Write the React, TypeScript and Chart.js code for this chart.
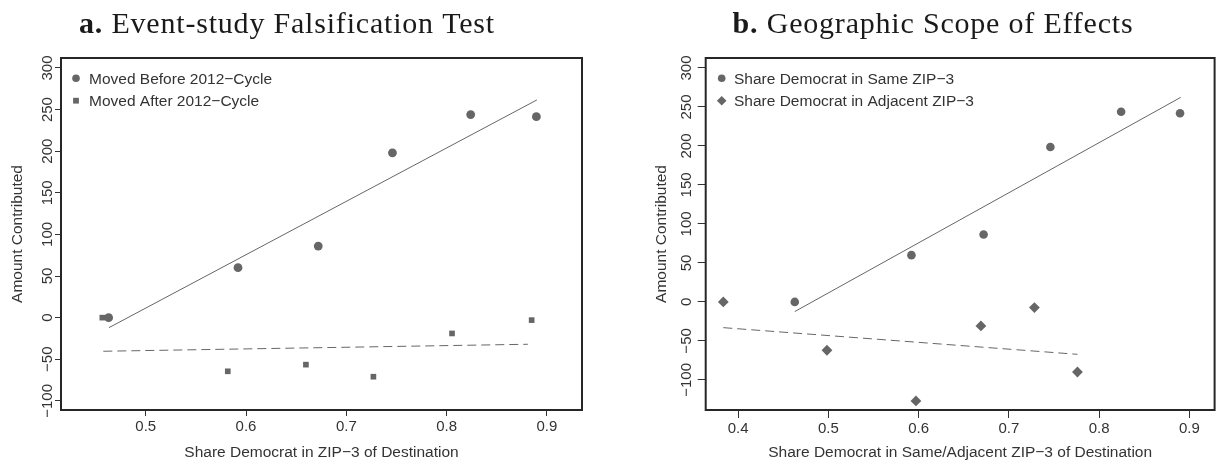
import React, { useEffect, useRef } from "react";
import { Chart, registerables } from "chart.js";

Chart.register(...registerables);

// ---------- Panel a: Event-study Falsification Test ----------
const A_BEFORE_X = [0.463, 0.592, 0.672, 0.746, 0.824, 0.8895];
const A_BEFORE_Y = [0, 60, 86, 198, 244, 241.5];
const A_AFTER_X = [0.4567, 0.5818, 0.6597, 0.727, 0.8054, 0.8848];
const A_AFTER_Y = [0, -64.5, -56.5, -71, -19, -3];
const A_FIT_BEFORE_X = [0.4634, 0.89];
const A_FIT_BEFORE_Y = [-12, 261.6];
const A_FIT_AFTER_X = [0.4577, 0.881];
const A_FIT_AFTER_Y = [-40.4, -32];
const A_X_TICKS = [0.5, 0.6, 0.7, 0.8, 0.9];

// ---------- Panel b: Geographic Scope of Effects ----------
const B_SAME_X = [0.4627, 0.592, 0.672, 0.746, 0.8244, 0.8897];
const B_SAME_Y = [0, 60, 86.4, 198.6, 243.9, 242];
const B_ADJ_X = [0.3835, 0.4984, 0.597, 0.669, 0.7283, 0.776];
const B_ADJ_Y = [0, -62, -127, -30.8, -7.3, -89.9];
const B_FIT_SAME_X = [0.4627, 0.8904];
const B_FIT_SAME_Y = [-12.4, 262.3];
const B_FIT_ADJ_X = [0.3835, 0.776];
const B_FIT_ADJ_Y = [-33, -67.2];
const B_X_TICKS = [0.4, 0.5, 0.6, 0.7, 0.8, 0.9];

const Y_TICKS = [-100, -50, 0, 50, 100, 150, 200, 250, 300];

const SANS = "'Liberation Sans', Arial, Helvetica, sans-serif";
const SERIF = "'Liberation Serif', 'Times New Roman', serif";
const INK = "#333333";
const MARK = "#666666";

const zip = (xs: number[], ys: number[]) => xs.map((x, i) => ({ x, y: ys[i] }));
const fmt = (v: number) => (v < 0 ? "\u2212" + String(Math.abs(v)) : String(v));

type Panel = {
  left: number;
  width: number;
  area: { left: number; right: number; top: number; bottom: number };
  xMin: number;
  xMax: number;
  yMin: number;
  yMax: number;
  xTicks: number[];
  tickLen: number;
  yLabelGap: number;
  yTitlePad: number;
  titleBold: string;
  titleRest: string;
  titleX: number;
  xTitle: string;
  datasets: any[];
  legend: { style: string; label: string }[];
  legendMarkerX: number;
  legendTextX: number;
};

const H = 460;
const DASH = [9, 5];

function makePanels(): Panel[] {
  const a: Panel = {
    left: 0,
    width: 610,
    area: { left: 61, right: 582, top: 58, bottom: 410 },
    xMin: 0.4155,
    xMax: 0.935,
    yMin: -111,
    yMax: 312,
    xTicks: A_X_TICKS,
    tickLen: 6,
    yLabelGap: 13.5,
    yTitlePad: 9.8,
    titleBold: "a.",
    titleRest: "Event-study Falsification Test",
    titleX: 287,
    xTitle: "Share Democrat in ZIP\u22123 of Destination",
    legend: [
      { style: "circle", label: "Moved Before 2012\u2212Cycle" },
      { style: "rect", label: "Moved After 2012\u2212Cycle" },
    ],
    legendMarkerX: 76,
    legendTextX: 89,
    datasets: [
      { data: zip(A_FIT_BEFORE_X, A_FIT_BEFORE_Y), showLine: true, borderColor: MARK, borderWidth: 1, pointRadius: 0 },
      { data: zip(A_FIT_AFTER_X, A_FIT_AFTER_Y), showLine: true, borderColor: MARK, borderWidth: 1, borderDash: DASH, pointRadius: 0 },
      { data: zip(A_BEFORE_X, A_BEFORE_Y), pointStyle: "circle", pointRadius: 4.4, backgroundColor: MARK, borderColor: MARK, borderWidth: 0 },
      { data: zip(A_AFTER_X, A_AFTER_Y), pointStyle: "rect", pointRadius: 4, backgroundColor: MARK, borderColor: MARK, borderWidth: 0 },
    ],
  };
  const b: Panel = {
    left: 610,
    width: 610,
    area: { left: 95.7, right: 608, top: 58, bottom: 410 },
    xMin: 0.364,
    xMax: 0.928,
    yMin: -138.6,
    yMax: 312.8,
    xTicks: B_X_TICKS,
    tickLen: 8,
    yLabelGap: 19,
    yTitlePad: 43.9,
    titleBold: "b.",
    titleRest: "Geographic Scope of Effects",
    titleX: 933 - 610,
    xTitle: "Share Democrat in Same/Adjacent ZIP\u22123 of Destination",
    legend: [
      { style: "circle", label: "Share Democrat in Same ZIP\u22123" },
      { style: "rectRot", label: "Share Democrat in Adjacent ZIP\u22123" },
    ],
    legendMarkerX: 721.7 - 610,
    legendTextX: 734 - 610,
    datasets: [
      { data: zip(B_FIT_SAME_X, B_FIT_SAME_Y), showLine: true, borderColor: MARK, borderWidth: 1, pointRadius: 0 },
      { data: zip(B_FIT_ADJ_X, B_FIT_ADJ_Y), showLine: true, borderColor: MARK, borderWidth: 1, borderDash: DASH, pointRadius: 0 },
      { data: zip(B_SAME_X, B_SAME_Y), pointStyle: "circle", pointRadius: 4.3, backgroundColor: MARK, borderColor: MARK, borderWidth: 0 },
      { data: zip(B_ADJ_X, B_ADJ_Y), pointStyle: "rectRot", pointRadius: 5.4, backgroundColor: MARK, borderColor: MARK, borderWidth: 0 },
    ],
  };
  return [a, b];
}

function decorPlugin(p: Panel) {
  return {
    id: "decor",
    afterDraw(chart: any) {
      const ctx = chart.ctx as CanvasRenderingContext2D;
      const ca = chart.chartArea;
      const ys = chart.scales.y;
      ctx.save();
      // frame
      ctx.strokeStyle = "#262626";
      ctx.lineWidth = 2;
      ctx.strokeRect(ca.left, ca.top, ca.right - ca.left, ca.bottom - ca.top);
      // rotated y tick labels
      ctx.fillStyle = INK;
      ctx.font = `15px ${SANS}`;
      ctx.textAlign = "center";
      ctx.textBaseline = "middle";
      for (const v of Y_TICKS) {
        const y = ys.getPixelForValue(v);
        ctx.save();
        ctx.translate(ca.left - p.yLabelGap, y);
        ctx.rotate(-Math.PI / 2);
        ctx.fillText(fmt(v), 0, 0);
        ctx.restore();
      }
      // legend
      const rows = [78.3, 100.7];
      ctx.textAlign = "left";
      ctx.font = `15.5px ${SANS}`;
      p.legend.forEach((it, i) => {
        const y = rows[i];
        ctx.fillStyle = MARK;
        ctx.beginPath();
        if (it.style === "circle") {
          ctx.arc(p.legendMarkerX, y, 3.8, 0, Math.PI * 2);
        } else if (it.style === "rect") {
          ctx.rect(p.legendMarkerX - 2.9, y - 2.9, 5.8, 5.8);
        } else {
          const r = 4.8;
          ctx.moveTo(p.legendMarkerX, y - r);
          ctx.lineTo(p.legendMarkerX + r, y);
          ctx.lineTo(p.legendMarkerX, y + r);
          ctx.lineTo(p.legendMarkerX - r, y);
          ctx.closePath();
        }
        ctx.fill();
        ctx.fillStyle = INK;
        ctx.fillText(it.label, p.legendTextX, y + 1);
      });
      // panel title
      ctx.fillStyle = "#1a1a1a";
      ctx.textBaseline = "alphabetic";
      const boldFont = `bold 30px ${SERIF}`;
      const regFont = `30px ${SERIF}`;
      (ctx as any).letterSpacing = "0.8px";
      ctx.font = boldFont;
      const wb = ctx.measureText(p.titleBold + " ").width;
      ctx.font = regFont;
      const wr = ctx.measureText(p.titleRest).width;
      const x0 = p.titleX - (wb + wr) / 2;
      ctx.font = boldFont;
      ctx.fillText(p.titleBold + " ", x0, 33);
      ctx.font = regFont;
      ctx.fillText(p.titleRest, x0 + wb, 33);
      (ctx as any).letterSpacing = "0px";
      ctx.restore();
    },
  };
}

function PanelChart({ p }: { p: Panel }) {
  const ref = useRef<HTMLCanvasElement | null>(null);
  useEffect(() => {
    if (!ref.current) return;
    const chart = new Chart(ref.current, {
      type: "scatter",
      data: { datasets: p.datasets },
      options: {
        responsive: false,
        animation: false,
        devicePixelRatio: 1,
        layout: { padding: { left: 0, top: p.area.top, right: p.width - p.area.right, bottom: 0 } },
        plugins: { legend: { display: false }, tooltip: { enabled: false }, title: { display: false } },
        scales: {
          x: {
            type: "linear",
            min: p.xMin,
            max: p.xMax,
            afterBuildTicks: (s: any) => {
              s.ticks = p.xTicks.map((v) => ({ value: v }));
            },
            afterFit: (s: any) => {
              s.height = H - p.area.bottom;
            },
            grid: { drawOnChartArea: false, drawTicks: true, tickLength: p.tickLen, color: INK, lineWidth: 1 },
            border: { display: false },
            ticks: {
              autoSkip: false,
              maxRotation: 0,
              minRotation: 0,
              padding: 2,
              color: INK,
              font: { family: SANS, size: 15 },
              callback: (v: any) => String(Math.round(Number(v) * 10) / 10),
            },
            title: {
              display: true,
              text: p.xTitle,
              color: INK,
              font: { family: SANS, size: 15.5, lineHeight: 1.0 },
              padding: { top: 0, bottom: 0 },
            },
          },
          y: {
            type: "linear",
            min: p.yMin,
            max: p.yMax,
            afterBuildTicks: (s: any) => {
              s.ticks = Y_TICKS.map((v) => ({ value: v }));
            },
            afterFit: (s: any) => {
              s.width = p.area.left;
            },
            grid: { drawOnChartArea: false, drawTicks: true, tickLength: p.tickLen, color: INK, lineWidth: 1 },
            border: { display: false },
            ticks: { display: false },
            title: {
              display: true,
              text: "Amount Contributed",
              color: INK,
              font: { family: SANS, size: 15.5, lineHeight: 1.0 },
              padding: { top: p.yTitlePad, bottom: 0 },
            },
          },
        },
      } as any,
      plugins: [decorPlugin(p)],
    });
    return () => chart.destroy();
  }, [p]);
  return (
    <canvas
      ref={ref}
      width={p.width}
      height={H}
      style={{ position: "absolute", left: p.left, top: 0, width: p.width, height: H }}
    />
  );
}

const PANELS = makePanels();

export default function App() {
  return (
    <div style={{ position: "fixed", left: 0, top: 0, width: 1220, height: H, background: "#ffffff" }}>
      {PANELS.map((p, i) => (
        <PanelChart key={i} p={p} />
      ))}
    </div>
  );
}
